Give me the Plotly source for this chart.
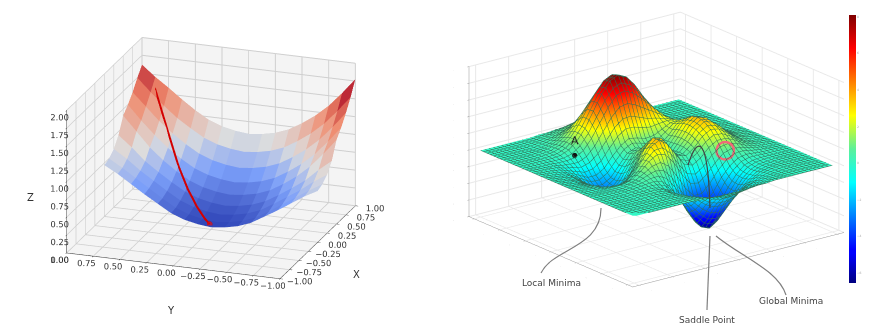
import plotly.graph_objects as go

# ---------- left chart: bowl surface (estimated heights, rows follow bowl_x, columns follow bowl_y)
bowl_x = [0, .125, .25, .375, .5, .625, .75, .875, 1]
bowl_y = [-1, -.875, -.75, -.625, -.5, -.375, -.25, -.125, 0, .125, .25, .375, .5, .625, .75, .875, 1]
bowl_z = [
 [.72,.62,.50,.38,.27,.16,.09,.05,.03,.05,.09,.16,.27,.38,.50,.62,.72],
 [.75,.64,.52,.40,.28,.17,.10,.06,.04,.06,.10,.17,.28,.40,.52,.64,.75],
 [.82,.70,.56,.44,.32,.21,.14,.10,.08,.10,.14,.21,.32,.44,.56,.70,.82],
 [.95,.80,.63,.50,.38,.27,.20,.16,.14,.16,.20,.27,.38,.50,.63,.80,.95],
 [1.18,.96,.76,.60,.47,.36,.29,.25,.23,.25,.29,.36,.47,.60,.76,.96,1.16],
 [1.29,1.07,.87,.71,.58,.47,.40,.36,.34,.36,.40,.47,.58,.71,.87,1.05,1.25],
 [1.43,1.21,1.01,.85,.72,.61,.54,.50,.48,.50,.54,.61,.72,.85,1.00,1.18,1.36],
 [1.59,1.37,1.17,1.01,.88,.77,.70,.66,.64,.66,.70,.77,.88,1.00,1.15,1.32,1.50],
 [1.78,1.56,1.36,1.20,1.07,.96,.89,.85,.83,.85,.89,.96,1.07,1.20,1.34,1.47,1.62],
]
path_x = [.92, .75, .55, .4, .25, .12, .02]
path_y = [.85, .68, .5, .36, .22, .1, .02]
path_z = [1.35, .92, .52, .3, .15, .07, .06]
left_ticks = [-1, -.75, -.5, -.25, 0, .25, .5, .75, 1]
left_ticktext = ["\u22121.00", "\u22120.75", "\u22120.50", "\u22120.25", "0.00", "0.25", "0.50", "0.75", "1.00"]
left_zticks = [0, .25, .5, .75, 1, 1.25, 1.5, 1.75, 2]
left_zticktext = ["0.00", "0.25", "0.50", "0.75", "1.00", "1.25", "1.50", "1.75", "2.00"]
axis_titles = ["Z", "Y", "X"]

# ---------- right chart: landscape with minima and saddle (estimated heights)
land_x = [-3, -2.5, -2.25, -2, -1.75, -1.5, -1.25, -1, -.75, -.5, -.25, 0, .25, .5, .75, 1, 1.25, 1.5, 1.75, 2, 2.25, 2.5, 3]
land_y = [3, 2.5, 2.25, 2, 1.75, 1.5, 1.25, 1, .75, .5, .25, 0, -.25, -.5, -.75, -1, -1.25, -1.5, -1.75, -2, -2.25, -2.5, -3]
land_rows = [
 [0,0,0,0,0,.1,.1,.2,.2,.3,.3,.3,.2,.2,.1,.1,0,0,0,0,0],
 [0,0,0,.1,.2,.4,.7,1.1,1.6,1.9,2,1.9,1.6,1.1,.7,.4,.2,.1,0,0,0],
 [0,0,0,.1,.3,.7,1.3,2.0,2.7,3.3,3.5,3.3,2.7,2.0,1.3,.8,.4,.2,.1,0,0],
 [0,0,.1,.2,.5,1.1,2.1,3.3,4.5,5.5,5.8,5.4,4.5,3.3,2.2,1.3,.7,.3,.1,0,0],
 [0,0,.1,.2,.6,1.4,2.7,4.3,6.0,7.2,7.7,7.2,6.0,4.5,3.0,1.8,1.0,.5,.2,.1,0],
 [0,0,0,.1,.5,1.3,2.6,4.4,6.2,7.5,8.0,7.5,6.3,4.7,3.3,2.1,1.2,.6,.3,.1,.1],
 [-.1,-.1,-.2,-.2,-.1,.5,1.7,3.3,4.9,6.1,6.4,5.9,5.0,4.0,3.0,2.1,1.4,.8,.4,.2,.1],
 [-.1,-.2,-.5,-.7,-.9,-.6,.2,1.5,2.8,3.6,3.7,3.3,2.9,2.7,2.4,2.1,1.6,1.0,.6,.3,.1],
 [-.2,-.4,-.8,-1.3,-1.8,-1.8,-1.2,0,1.0,1.6,1.4,1.1,1.2,1.7,2.2,2.3,2.0,1.4,.8,.4,.2],
 [-.3,-.5,-1.1,-1.9,-2.5,-2.6,-2.0,-.8,.4,.8,.5,.1,.4,1.3,2.4,2.8,2.6,1.9,1.1,.5,.2],
 [-.3,-.6,-1.3,-2.2,-2.9,-3.0,-2.1,-.6,.7,1.1,.5,0,.3,1.5,2.8,3.4,3.1,2.2,1.3,.6,.3],
 [-.3,-.7,-1.3,-2.2,-2.8,-2.7,-1.6,.1,1.5,1.8,1.0,.2,.4,1.6,2.9,3.6,3.3,2.4,1.4,.7,.3],
 [-.3,-.6,-1.1,-1.8,-2.2,-1.8,-.6,1.2,2.6,2.6,1.6,.5,.5,1.5,2.7,3.4,3.1,2.3,1.3,.6,.3],
 [-.2,-.4,-.8,-1.2,-1.2,-.6,.8,2.5,3.6,3.3,2.0,.7,.4,1.1,2.2,2.8,2.6,1.9,1.1,.5,.2],
 [-.1,-.3,-.4,-.5,-.3,.5,1.8,3.1,3.6,2.9,1.4,0,-.4,.2,1.2,1.8,1.8,1.4,.8,.4,.2],
 [-.1,-.1,-.1,0,.3,1.0,1.9,2.5,2.2,1.0,-.7,-2.0,-2.2,-1.4,-.3,.6,.9,.8,.5,.3,.1],
 [0,0,0,.2,.4,.8,1.1,.9,-.2,-1.9,-3.6,-4.6,-4.4,-3.2,-1.7,-.6,.1,.3,.2,.1,.1],
 [0,0,.1,.2,.3,.4,.2,-.7,-2.2,-4.1,-5.7,-6.3,-5.8,-4.3,-2.6,-1.3,-.4,-.1,0,0,0],
 [0,0,.1,.1,.2,0,-.5,-1.5,-3.0,-4.7,-6.0,-6.4,-5.7,-4.3,-2.7,-1.4,-.6,-.2,-.1,0,0],
 [0,0,.1,.1,.1,-.1,-.6,-1.4,-2.6,-3.8,-4.7,-4.9,-4.3,-3.2,-2.1,-1.2,-.5,-.2,-.1,0,0],
 [0,0,0,.1,0,-.1,-.4,-.9,-1.6,-2.4,-2.9,-3.0,-2.6,-2.0,-1.3,-.7,-.3,-.1,0,0,0],
 [0,0,0,0,0,-.1,-.3,-.6,-1.0,-1.4,-1.7,-1.7,-1.5,-1.1,-.7,-.4,-.2,-.1,0,0,0],
 [0,0,0,0,0,0,-.1,-.1,-.2,-.2,-.2,-.2,-.2,-.1,-.1,0,0,0,0,0,0],
]
land_z = [[0] + r + [0] for r in land_rows]
marker_a = dict(x=[-1.55], y=[1.2], z=[.3])
marker_b = dict(x=[1.25], y=[-1.05], z=[1.0])
marker_c = dict(x=[1.5], y=[-1], z=[1.4])
labels = ["Local Minima", "Saddle Point", "Global Minima"]

W, H = 885, 328
coolwarm = [[0, "#2f45b8"], [.25, "#7b9ff9"], [.45, "#dddddd"], [.75, "#f08a6c"], [1, "#a8031f"]]
jet = [[0, "#00007f"], [.11, "#0000ff"], [.125, "#0000ff"], [.375, "#00ffff"], [.5, "#5cf09a"],
       [.625, "#ffff00"], [.875, "#ff0000"], [1, "#7f0000"]]

nx, ny = len(bowl_x), len(bowl_y)
vx, vy, vz, fi, fj, fk, fc = [], [], [], [], [], [], []
for a in range(nx):
    for b in range(ny):
        vx.append(bowl_x[a]); vy.append(bowl_y[b]); vz.append(bowl_z[a][b])
for a in range(nx - 1):
    for b in range(ny - 1):
        p, q, r, s = a * ny + b, a * ny + b + 1, (a + 1) * ny + b, (a + 1) * ny + b + 1
        m = (bowl_z[a][b] + bowl_z[a][b + 1] + bowl_z[a + 1][b] + bowl_z[a + 1][b + 1]) / 4
        fi += [p, q]; fj += [q, s]; fk += [r, r]; fc += [m, m]

fig = go.Figure()
fig.add_trace(go.Mesh3d(x=vx, y=vy, z=vz, i=fi, j=fj, k=fk, intensity=fc, intensitymode="cell",
                        colorscale=coolwarm, cmin=.03, cmax=1.7, showscale=False, flatshading=True,
                        lighting=dict(ambient=1, diffuse=0, specular=0, fresnel=0), scene="scene"))
fig.add_trace(go.Scatter3d(x=path_x, y=path_y, z=path_z, mode="lines+markers",
                           line=dict(color="#d40000", width=4), marker=dict(size=[2, 2, 2, 2, 2, 2, 6], color="#e01010"),
                           showlegend=False, scene="scene"))
fig.add_trace(go.Surface(x=land_x, y=land_y, z=land_z, colorscale=jet, cmin=-6.55, cmax=8.1,
                         lighting=dict(ambient=1, diffuse=0, specular=0, fresnel=0),
                         contours=dict(x=dict(show=True, start=-3, end=3, size=.125, color="#2f6f56", width=1),
                                       y=dict(show=True, start=-3, end=3, size=.125, color="#2f6f56", width=1)),
                         colorbar=dict(x=841 / W, xanchor="left", y=1 - 141 / H, yanchor="middle", len=268 / H,
                                       thickness=7, xpad=0, ypad=0, outlinewidth=0,
                                       tickvals=[-6, -4, -2, 0, 2, 4, 6, 8], ticks="", tickfont=dict(size=3, color="#aaaaaa")),
                         scene="scene2"))
fig.add_trace(go.Scatter3d(mode="markers+text", text=["A"], textposition="top center", textfont=dict(size=11, color="#222222"),
                           marker=dict(size=3, color="#111111"), showlegend=False, scene="scene2", **marker_a))
fig.add_trace(go.Scatter3d(mode="markers", marker=dict(size=11, symbol="circle-open", color="#f06a78", line=dict(width=4, color="#f06a78")),
                           showlegend=False, scene="scene2", **marker_b))
fig.add_trace(go.Scatter3d(mode="markers", marker=dict(size=2, color="#d02030"), showlegend=False, scene="scene2", **marker_c))

def left_axis(vals, text, rng):
    return dict(title=dict(text=""), range=rng, tickvals=vals, ticktext=text, tickangle=0,
                tickfont=dict(size=10, color="#333333"), gridcolor="#cfcfcf", showbackground=True, backgroundcolor="#f4f4f4",
                showline=True, linecolor="#333333", ticks="outside", ticklen=3, tickcolor="#333333", zeroline=False, showspikes=False)

def right_axis(rng, vals):
    return dict(title=dict(text=""), range=rng, tickvals=vals, tickangle=0, tickfont=dict(size=3, color="#999999"), gridcolor="#e8e8e8",
                showbackground=False, showline=True, linecolor="#999999", ticks="outside", ticklen=2, tickcolor="#999999",
                zeroline=False, showspikes=False)

def px(x, y):
    return f"{x / W:.4f},{1 - y / H:.4f}"

leaders = [
    ("M593,200 C593,240 545,240 533,265", "#808080"),
    ("M702,228 L699,302", "#808080"),
    ("M708,228 C735,250 770,262 778,287", "#808080"),
    ("M680,157 C690,125 700,130 702,200", "#444444"),
]
shapes = []
for d, col in leaders:
    parts = d.replace("M", "M ").replace("C", " C ").replace("L", " L ").split()
    out = []
    for t in parts:
        if "," in t:
            a, b = t.split(",")
            out.append(px(float(a), float(b)))
        else:
            out.append(t)
    shapes.append(dict(type="path", xref="paper", yref="paper", path=" ".join(out), line=dict(color=col, width=1.2)))

annots = [dict(x=px_x / W, y=1 - px_y / H, xref="paper", yref="paper", text=t, showarrow=False,
               xanchor="center", yanchor="middle", font=dict(size=9, color="#444444", family="DejaVu Sans"))
          for t, px_x, px_y in zip(labels, [543, 699, 783], [275, 312, 293])]
annots += [dict(x=px_x / W, y=1 - px_y / H, xref="paper", yref="paper", text=t, showarrow=False,
                xanchor="center", yanchor="middle", font=dict(size=10, color="#333333", family="DejaVu Sans"))
           for t, px_x, px_y in zip(axis_titles, [22, 163, 348], [189, 302, 266])]

fig.update_layout(
    width=W, height=H, margin=dict(l=0, r=0, t=0, b=0), paper_bgcolor="white", showlegend=False,
    font=dict(family="DejaVu Sans"), shapes=shapes, annotations=annots,
    scene=dict(domain=dict(x=[0, .459], y=[0, 1]), aspectmode="manual", aspectratio=dict(x=1.38, y=1.38, z=.925),
               camera=dict(eye=dict(x=-1.01, y=-.357, z=.30), center=dict(x=0, y=0, z=-.09), projection=dict(type="orthographic")),
               xaxis=left_axis(left_ticks, left_ticktext, [-1, 1]),
               yaxis=left_axis(left_ticks, left_ticktext, [-1, 1]),
               zaxis=left_axis(left_zticks, left_zticktext, [0, 2])),
    scene2=dict(domain=dict(x=[.503, .963], y=[0, 1]), aspectmode="manual", aspectratio=dict(x=1.63, y=1.63, z=.97),
                camera=dict(eye=dict(x=-.6, y=-.775, z=.201), center=dict(x=0, y=0, z=-.145), projection=dict(type="orthographic")),
                xaxis=right_axis([-3.2, 3.2], [-3, -2, -1, 0, 1, 2, 3]),
                yaxis=right_axis([-3.2, 3.2], [-3, -2, -1, 0, 1, 2, 3]),
                zaxis=right_axis([-8, 10], [-8, -6, -4, -2, 0, 2, 4, 6, 8, 10])),
)
fig.write_html("out.html")
